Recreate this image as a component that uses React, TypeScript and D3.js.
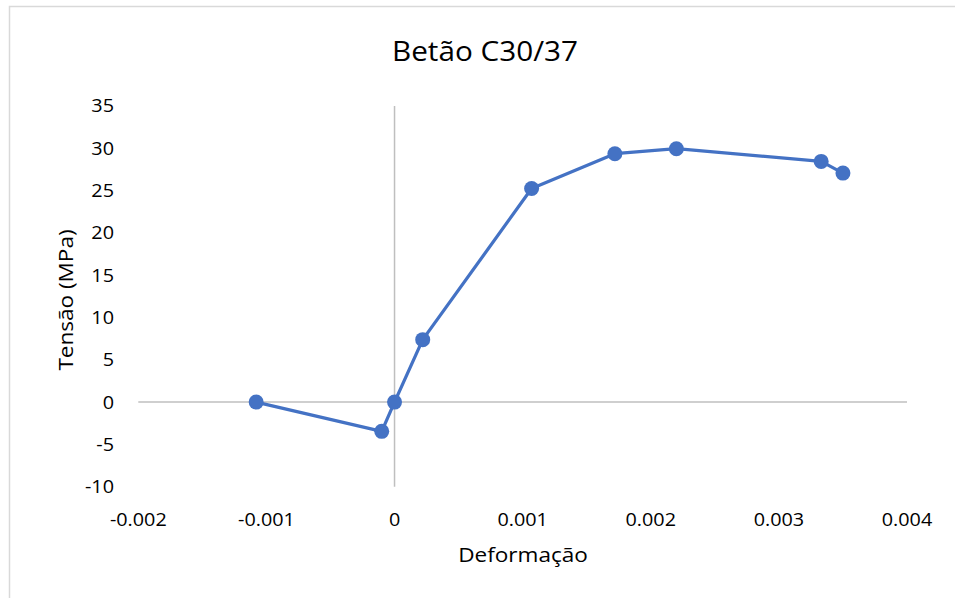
import React from "react";
import * as d3 from "d3";

const strainValues = [-0.00108, -0.0001, 0, 0.00022, 0.00107, 0.00172, 0.0022, 0.00333, 0.0035];
const stressValues = [0, -3.46, 0, 7.38, 25.24, 29.36, 29.95, 28.45, 27.07];
const xTicks = [-0.002, -0.001, 0, 0.001, 0.002, 0.003, 0.004];
const xTickLabels = ["-0.002", "-0.001", "0", "0.001", "0.002", "0.003", "0.004"];
const yTicks = [-10, -5, 0, 5, 10, 15, 20, 25, 30, 35];
const yTickLabels = ["-10", "-5", "0", "5", "10", "15", "20", "25", "30", "35"];
const titleText = "Betão C30/37";
const xTitle = "Deformação";
const yTitle = "Tensão (MPa)";

const W = 955;
const H = 598;
const FONT = "'Open Sans', 'Noto Sans', sans-serif";
const SX = 1.1;

export default function App() {
  const x = d3.scaleLinear().domain([-0.002, 0.004]).range([138.3, 907]);
  const y = d3.scaleLinear().domain([-10, 35]).range([486.7, 106]);
  const pts = strainValues.map((v, i) => [v, stressValues[i]] as [number, number]);
  const line = d3
    .line<[number, number]>()
    .x((d) => x(d[0]))
    .y((d) => y(d[1]));

  const stretched = (cx: number, cy: number, content: React.ReactNode) => (
    <g transform={`translate(${cx},${cy}) scale(${SX},1)`}>{content}</g>
  );

  return (
    <svg
      width={W}
      height={H}
      style={{ position: "absolute", left: 0, top: 0, display: "block", background: "#fff" }}
    >
      <rect x={9.5} y={6.5} width={960} height={620} fill="#fff" stroke="#d9d9d9" strokeWidth={1.5} />
      <line x1={x(-0.002)} x2={x(0.004)} y1={y(0)} y2={y(0)} stroke="#bfbfbf" strokeWidth={1.5} />
      <line x1={x(0)} x2={x(0)} y1={y(35)} y2={y(-10)} stroke="#bfbfbf" strokeWidth={1.5} />
      {yTicks.map((t, i) => (
        <g key={"y" + i}>
          {stretched(
            114,
            y(t),
            <text textAnchor="end" dy="0.36em" fontFamily={FONT} fontSize={18} fill="#000">
              {yTickLabels[i]}
            </text>
          )}
        </g>
      ))}
      {xTicks.map((t, i) => (
        <g key={"x" + i}>
          {stretched(
            x(t),
            526,
            <text textAnchor="middle" fontFamily={FONT} fontSize={18} fill="#000">
              {xTickLabels[i]}
            </text>
          )}
        </g>
      ))}
      <path d={line(pts) || ""} fill="none" stroke="#4472C4" strokeWidth={3.25} strokeLinejoin="round" />
      {pts.map((p, i) => (
        <circle key={"p" + i} cx={x(p[0])} cy={y(p[1])} r={7.5} fill="#4472C4" />
      ))}
      {stretched(
        485,
        61,
        <text textAnchor="middle" fontFamily={FONT} fontSize={27} fill="#000">
          {titleText}
        </text>
      )}
      {stretched(
        523,
        562,
        <text textAnchor="middle" fontFamily={FONT} fontSize={20.5} fill="#000">
          {xTitle}
        </text>
      )}
      <g transform={`translate(73,300) rotate(-90) scale(${SX},1)`}>
        <text textAnchor="middle" fontFamily={FONT} fontSize={20.5} fill="#000">
          {yTitle}
        </text>
      </g>
    </svg>
  );
}
